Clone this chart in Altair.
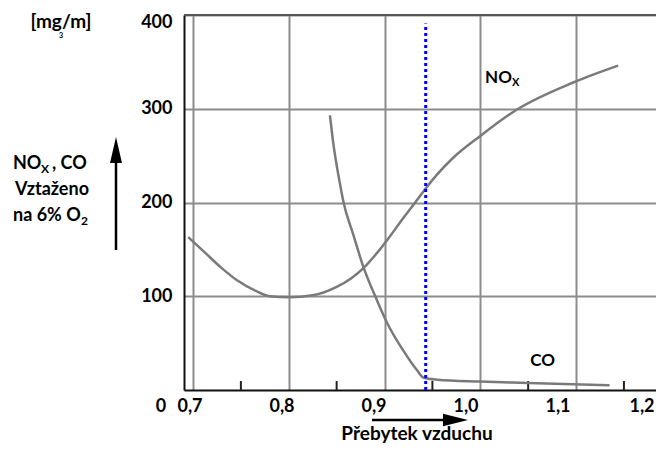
import altair as alt
import pandas as pd

FONT = "Lato"

# NOx curve
nox_x = [0.695, 0.710, 0.730, 0.746, 0.765, 0.780, 0.801, 0.825, 0.850, 0.865,
         0.878, 0.892, 0.905, 0.920, 0.932, 0.943, 0.955, 0.972, 1.000, 1.038,
         1.097, 1.144]
nox_y = [163, 149, 130, 117, 106, 100, 99, 101, 110, 119,
         130, 146, 163, 184, 200, 215, 230, 248, 271, 299,
         328, 346]

# CO curve
co_x = [0.843, 0.846, 0.854, 0.857, 0.867, 0.878, 0.892, 0.903, 0.919, 0.934,
        0.941, 0.955, 1.000, 1.050, 1.135]
co_y = [293, 267, 217, 201, 167, 131, 96, 71, 43, 21,
        13, 11, 9, 7.5, 5]

grid_x = [0.7, 0.8, 0.9, 1.0, 1.1]
minor_x = [0.75, 0.85, 0.95, 1.05, 1.15]
y_ticks = [100, 200, 300, 400]
x_label_vals = [0.7, 0.8, 0.9, 1.0, 1.1]
x_label_txt = ["0,7", "0,8", "0,9", "1,0", "1,1"]
x_last_val = [1.2]
x_last_txt = ["1,2"]
ref_x = 0.943
ref_top = 391

W, H = 472, 375
xs = alt.Scale(domain=[0.6906, 1.1835], nice=False, zero=False)
ys = alt.Scale(domain=[0, 400], nice=False)

nox = pd.DataFrame({"x": nox_x, "y": nox_y})
co = pd.DataFrame({"x": co_x, "y": co_y})

base_axes = alt.Chart(pd.DataFrame({"x": grid_x, "y": [0] * 5})).mark_point(opacity=0).encode(
    x=alt.X("x:Q", scale=xs, title=None,
            axis=alt.Axis(values=grid_x, labels=False, ticks=False, grid=True,
                          gridColor="#8c8c8c", gridWidth=2, domainColor="#111",
                          domainWidth=2)),
    y=alt.Y("y:Q", scale=ys, title=None,
            axis=alt.Axis(values=y_ticks, ticks=False, grid=True, gridColor="#8c8c8c",
                          gridWidth=2, domainColor="#111", domainWidth=2,
                          labelPadding=12, labelFont=FONT, labelFontSize=18,
                          labelFontWeight="bold", labelColor="#000",
                          labelOffset={"condition": {"test": "datum.value == 400", "value": 7}, "value": 0})),
)

top_border = alt.Chart(pd.DataFrame({"y": [400]})).mark_rule(color="#555", strokeWidth=2).encode(
    y=alt.Y("y:Q", scale=ys))

minor = alt.Chart(pd.DataFrame({"x": minor_x})).mark_rule(color="#222", strokeWidth=2).encode(
    x=alt.X("x:Q", scale=xs), y=alt.value(H), y2=alt.value(H - 9))

nox_line = alt.Chart(nox).mark_line(color="#7a7a7a", strokeWidth=2.5, interpolate="monotone").encode(
    x=alt.X("x:Q", scale=xs), y=alt.Y("y:Q", scale=ys))
co_line = alt.Chart(co).mark_line(color="#7a7a7a", strokeWidth=2.5, interpolate="monotone").encode(
    x=alt.X("x:Q", scale=xs), y=alt.Y("y:Q", scale=ys))

ref = alt.Chart(pd.DataFrame({"x": [ref_x], "y": [0], "y2": [ref_top]})).mark_rule(
    color="#0000ff", strokeWidth=3, strokeDash=[3, 3]).encode(
    x=alt.X("x:Q", scale=xs), y=alt.Y("y:Q", scale=ys), y2="y2:Q")


def txt(s, x, y, size=18, align="center"):
    return alt.Chart(pd.DataFrame({"t": [s]})).mark_text(
        font=FONT, fontSize=size, fontWeight="bold", color="#000", align=align,
        baseline="middle").encode(x=alt.value(x), y=alt.value(y), text="t:N")


def dtxt(s, x, y, size=17, align="left", dx=0, dy=0):
    return alt.Chart(pd.DataFrame({"t": [s], "x": [x], "y": [y]})).mark_text(
        font=FONT, fontSize=size, fontWeight="bold", color="#000", align=align,
        baseline="middle", dx=dx, dy=dy).encode(
        x=alt.X("x:Q", scale=xs), y=alt.Y("y:Q", scale=ys), text="t:N")


annots = [
    dtxt("NO", 1.005, 333, size=17),
    dtxt("X", 1.005, 333, size=11, dx=27, dy=5),
    dtxt("CO", 1.065, 31, size=17, align="center"),
    txt("[mg/m]", -123, 7, size=19),
    txt("3", -123, 21, size=7),
    txt("NO", -171, 149, size=18, align="left"),
    txt("X", -143, 154, size=12, align="left"),
    txt(", CO", -132, 149, size=18, align="left"),
    txt("Vztaženo", -132, 175, size=18),
    txt("na 6% O", -171, 201, size=18, align="left"),
    txt("2", -103, 206, size=12, align="left"),
    txt("0", -23, 392, size=18),
    txt("Přebytek vzduchu", 233, 419, size=19),
]

one = pd.DataFrame({"a": [0]})
up_shaft = alt.Chart(one).mark_rule(color="#000", strokeWidth=2.5).encode(
    x=alt.value(-68), y=alt.value(235), y2=alt.value(140))
up_head = alt.Chart(one).mark_point(shape="M0,-1L0.46,1L-0.46,1Z", filled=True, color="#000",
                                    opacity=1, size=676).encode(x=alt.value(-68), y=alt.value(135))
rt_shaft = alt.Chart(one).mark_rule(color="#000", strokeWidth=2.5).encode(
    x=alt.value(188), x2=alt.value(265), y=alt.value(405))
rt_head = alt.Chart(one).mark_point(shape="M1,0L-1,-0.5L-1,0.5Z", filled=True, color="#000",
                                    opacity=1, size=625).encode(x=alt.value(271.5), y=alt.value(405))

main = alt.layer(base_axes, top_border, minor, nox_line, co_line, ref,
                 up_shaft, up_head, rt_shaft, rt_head, *annots)

lab_scale = alt.Scale(domain=[0.69348, 1.20652], nice=False, zero=False)
xlabels = alt.Chart(pd.DataFrame({"v": x_label_vals, "lab": x_label_txt})).mark_text(
    font=FONT, fontSize=18, fontWeight="bold", color="#000", baseline="middle").encode(
    x=alt.X("v:Q", scale=lab_scale, axis=None),
    y=alt.value(392), text="lab:N")
xlast = alt.Chart(pd.DataFrame({"v": x_last_val, "lab": x_last_txt})).mark_text(
    font=FONT, fontSize=18, fontWeight="bold", color="#000", baseline="middle", dx=-8).encode(
    x=alt.X("v:Q", scale=lab_scale, axis=None),
    y=alt.value(392), text="lab:N")
labels = alt.layer(xlabels, xlast)

chart = alt.layer(main, labels).resolve_scale(x="independent").properties(
    width=W, height=H,
    autosize=alt.AutoSizeParams(type="none"),
    padding={"left": 176, "top": 7, "right": 0, "bottom": 55},
).configure_view(stroke=None)

chart.save("out.html", embed_options={"renderer": "svg", "actions": False})
